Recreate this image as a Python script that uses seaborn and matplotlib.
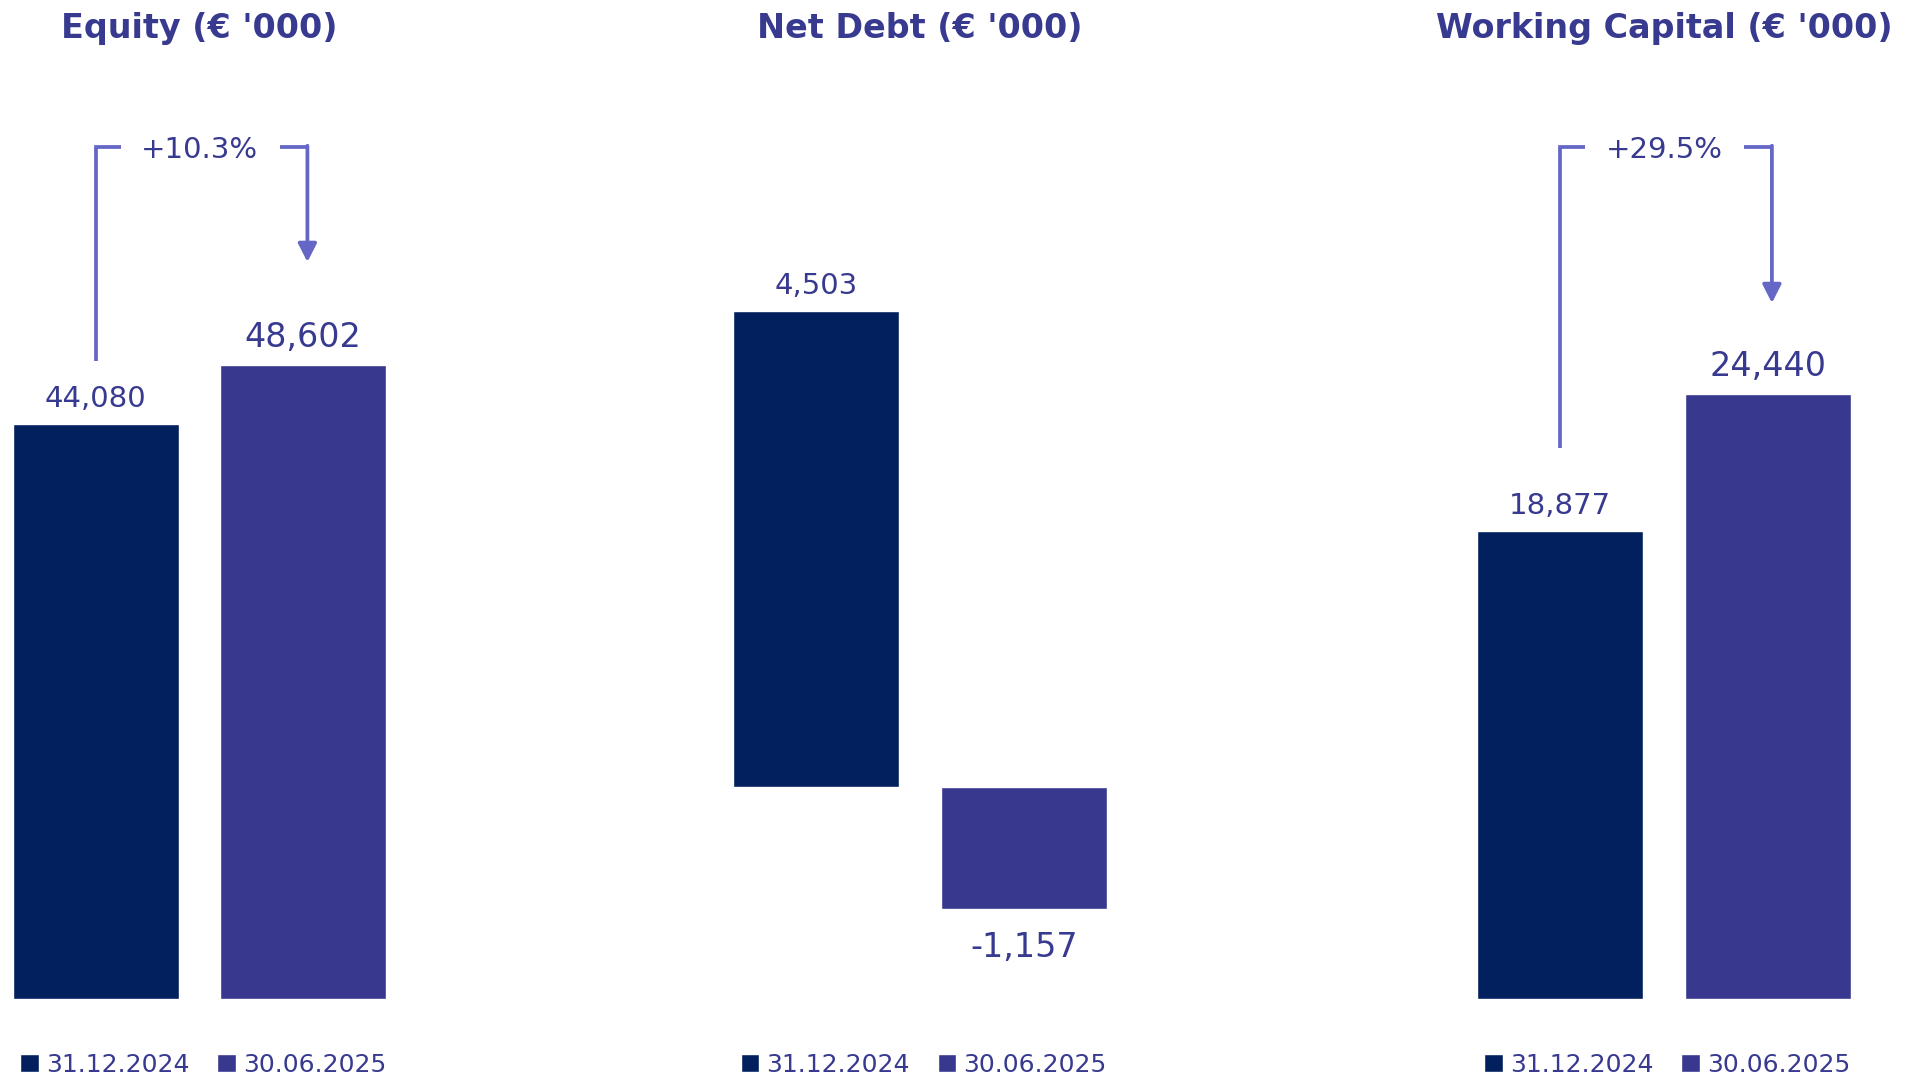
import matplotlib
matplotlib.use("Agg")
import matplotlib.pyplot as plt
import matplotlib.transforms as mtransforms
import seaborn as sns
import pandas as pd

# data
dates = ["31.12.2024", "30.06.2025"]
titles = ["Equity (€ '000)", "Net Debt (€ '000)", "Working Capital (€ '000)"]
equity = [44080, 48602]
net_debt = [4503, -1157]
working_capital = [18877, 24440]
changes = ["+10.3%", None, "+29.5%"]

bar_colors = ["#02205E", "#37388E"]
text_color = "#383A8F"
line_color = "#6467C6"

sns.set_theme(style="white")
plt.rcParams["font.family"] = ["DejaVu Sans"]

W, H = 1906, 1078
fig = plt.figure(figsize=(W / 100, H / 100), dpi=100)

# layout (pixels): axes left edge, y limits per panel
lefts = [0, 720.5, 1464.5]
ylims = [(0, 71980), (-2014, 6886), (0, 37909)]
# arrow geometry in axes fraction: (line bottom, arrow tip)
arrows = [(0.6794, 0.7849), None, (0.5868, 0.7412)]
top_y = 0.9073

for i, vals in enumerate([equity, net_debt, working_capital]):
    ax = fig.add_axes([lefts[i] / W, 79 / H, 399 / W, 939 / H])
    df = pd.DataFrame({"date": dates, "value": vals})
    sns.barplot(data=df, x="date", y="value", hue="date", palette=bar_colors,
                width=0.8, saturation=1, ax=ax, legend=True)
    ax.set_xlim(-0.4614, 1.4614)
    ax.set_ylim(*ylims[i])
    ax.set_xticks([])
    ax.set_yticks([])
    ax.set_xlabel("")
    ax.set_ylabel("")
    sns.despine(ax=ax, left=True, bottom=True)

    # value labels
    for j, cont in enumerate(ax.containers):
        v = vals[j]
        size = 21 if j == 0 else 24
        pad = 8 if v >= 0 else 16
        ax.bar_label(cont, labels=[f"{v:,.0f}"], padding=pad,
                     fontsize=size, color=text_color)

    # title
    ax.set_title(titles[i], fontsize=24, fontweight="bold", color=text_color,
                 pad=16)

    # legend
    leg = ax.get_legend()
    handles = leg.legend_handles
    labels = [t.get_text() for t in leg.get_texts()]
    ax.legend(handles, labels, ncol=2, frameon=False, loc="center left",
              bbox_to_anchor=(20 / 399, -66 / 939), borderaxespad=0,
              borderpad=0, fontsize=18, labelcolor=text_color,
              handlelength=0.74, handleheight=0.74, handletextpad=0.3,
              columnspacing=1.1)

    # change arrow
    if arrows[i] is not None:
        bot, tip = arrows[i]
        tr = mtransforms.blended_transform_factory(ax.transData, ax.transAxes)
        ax.plot([0, 0, 0.12], [bot, top_y, top_y], color=line_color, lw=2.7,
                transform=tr, clip_on=False, solid_capstyle="butt",
                solid_joinstyle="miter")
        ax.plot([0.887, 1.02], [top_y, top_y], color=line_color, lw=2.7,
                transform=tr, clip_on=False, solid_capstyle="butt")
        ax.annotate("", xy=(1.02, tip), xytext=(1.02, top_y + 0.0014),
                    xycoords=tr, textcoords=tr,
                    arrowprops=dict(arrowstyle="-|>,head_length=0.55,head_width=0.28",
                                    color=line_color, lw=2.7,
                                    mutation_scale=20, shrinkA=0, shrinkB=0))
        ax.text(0.5, top_y, changes[i], transform=tr, ha="center",
                va="center_baseline", fontsize=21, color=text_color)

fig.savefig("out.png", dpi=100)
